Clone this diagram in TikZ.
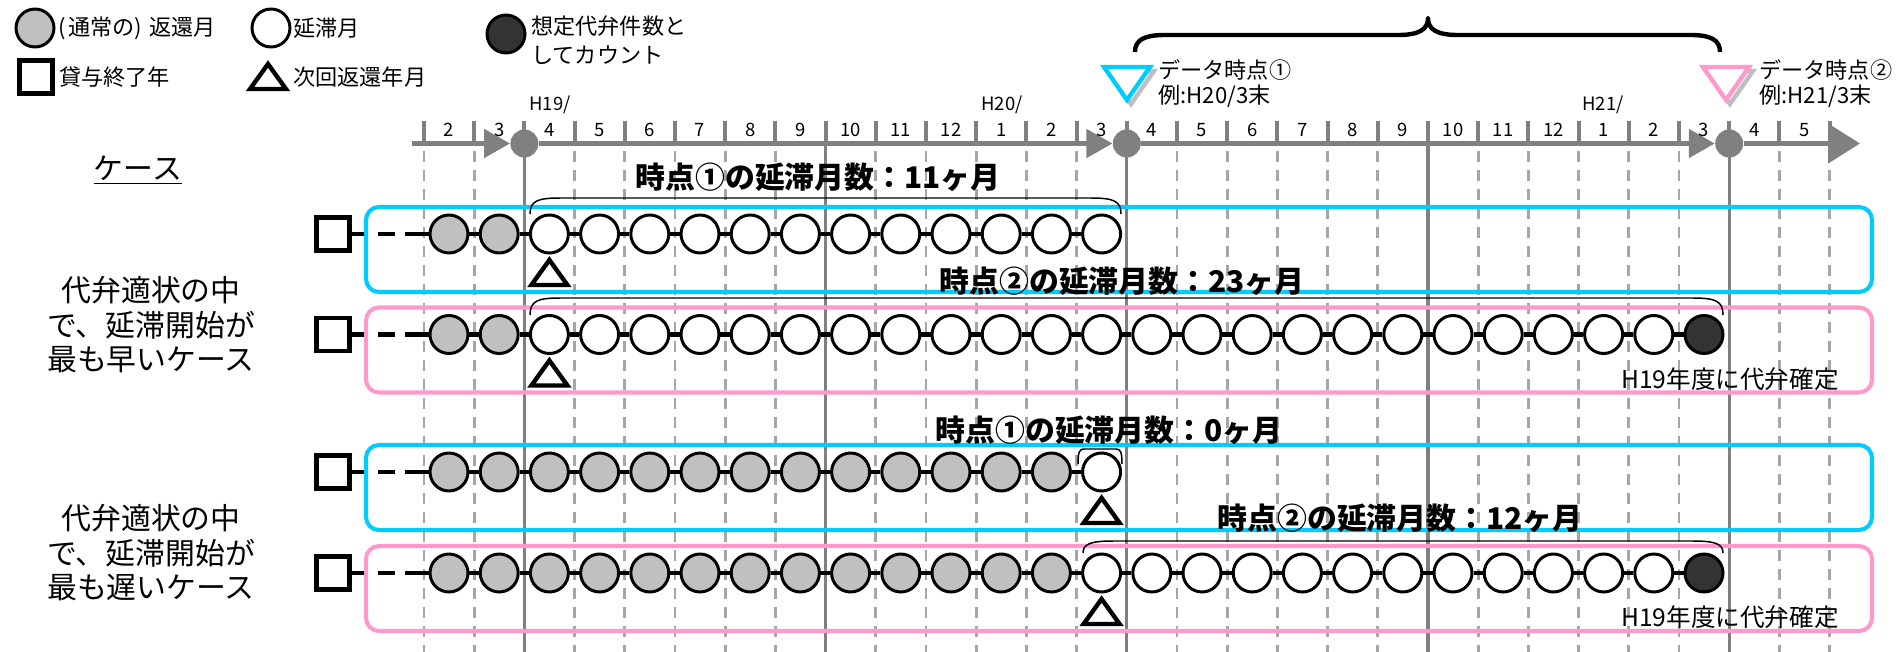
\documentclass[tikz,border=0pt]{standalone}
\usepackage{fontspec}
\setmainfont{Noto Sans CJK JP}
\usetikzlibrary{arrows.meta}
\definecolor{axisgray}{HTML}{808080}
\definecolor{gridgray}{HTML}{A6A6A6}
\definecolor{paidgray}{HTML}{C0C0C0}
\definecolor{subdark}{HTML}{333333}
\definecolor{pointcyan}{HTML}{00CCFF}
\definecolor{pointpink}{HTML}{FF99CC}
\definecolor{shadowgray}{HTML}{BFBFBF}

\begin{document}
\begin{tikzpicture}[x=0.02cm, y=-0.02cm,
    mon/.style={circle, minimum size=0.76cm, inner sep=0, draw, line width=1.7pt},
    paid/.style={mon, fill=paidgray},
    late/.style={mon, fill=white},
    subro/.style={mon, fill=subdark},
    endyr/.style={rectangle, minimum size=0.66cm, inner sep=0, draw, line width=2.5pt, fill=white},
    link/.style={line width=2.8pt},
    nexttri/.style={line width=2.5pt, line join=miter, fill=white},
    tick/.style={axisgray, line width=2.3pt},
    axdot/.style={circle, minimum size=0.56cm, inner sep=0, fill=axisgray},
    axis/.style={axisgray, line width=2.8pt},
    grid/.style={gridgray, line width=1.5pt, dash pattern=on 0.22cm off 0.16cm},
    yearln/.style={axisgray, line width=1.9pt},
    rowbox/.style={rounded corners=0.26cm, line width=2.3pt},
    bracel/.style={line width=0.85pt},
    monlbl/.style={inner sep=0, font=\fontsize{10.5}{12}\selectfont},
    lgd/.style={anchor=west, inner sep=0, font=\fontsize{12.6}{16.4}\selectfont},
    cnt/.style={inner sep=0, font=\fontsize{17}{20}\selectfont\bfseries},
    casetxt/.style={inner sep=0, align=center, font=\fontsize{17}{19.6}\selectfont},
    fixnote/.style={inner sep=0, font=\fontsize{14}{16}\selectfont}]
\useasboundingbox (0,0) rectangle (1898,652);

% grid: solid every half year, dashed every month
\foreach \j in {0,...,28} {
  \pgfmathtruncatemacro{\six}{mod(\j+4,6)}
  \ifnum\six=0
    \draw[yearln] ({424+50.2*\j},146) -- ({424+50.2*\j},652);
  \else
    \draw[grid] ({424+50.2*\j},151) -- ({424+50.2*\j},652);
  \fi
}

% time axis
\foreach \j in {0,...,28}
  \draw[tick] ({424+50.2*\j},121) -- ({424+50.2*\j},141);
\coordinate (a0) at (412,143.5);
\coordinate (a4) at (1860,143.5);
\node[axdot] (d1) at (524.4,143.5) {};
\node[axdot] (d2) at (1126.8,143.5) {};
\node[axdot] (d3) at (1729.2,143.5) {};
\draw[axis, -{Triangle[length=0.52cm, width=0.56cm]}] (a0) -- (d1);
\draw[axis, -{Triangle[length=0.52cm, width=0.56cm]}] (d1) -- (d2);
\draw[axis, -{Triangle[length=0.52cm, width=0.56cm]}] (d2) -- (d3);
\draw[axis, -{Triangle[length=0.64cm, width=0.78cm]}] (d3) -- (a4);
\foreach \k in {0,...,27} {
  \pgfmathtruncatemacro{\m}{mod(\k+1,12)+1}
  \node[monlbl] (m\k) at ({449+50.2*\k},130) {\m};
}
\node[monlbl, anchor=west] (h19) at (529,105) {H19/};
\node[monlbl, anchor=west] (h20) at (981,105) {H20/};
\node[monlbl, anchor=west] (h21) at (1582,105) {H21/};

% data points
\draw[shadowgray, line width=2.5pt] (1108,71) -- (1154,71) -- (1131,104) -- cycle;
\draw[pointcyan, line width=2.5pt, fill=white] (1104,67) -- (1150,67) -- (1127,100) -- cycle;
\draw[shadowgray, line width=2.5pt] (1707,71) -- (1753,71) -- (1730,104) -- cycle;
\draw[pointpink, line width=2.5pt, fill=white] (1703,67) -- (1749,67) -- (1726,100) -- cycle;
\node[lgd] (p1) at (1158,70) {データ時点①};
\node[lgd] (p1x) at (1158,96) {例:H20/3末};
\node[lgd] (p2) at (1759,70) {データ時点②};
\node[lgd] (p2x) at (1759,96) {例:H21/3末};
\draw[line width=2.5pt, line join=round] (1135,52) .. controls (1135,40) and (1144,35) .. (1165,35) -- (1398,35)
  .. controls (1420,35) and (1428,29) .. (1428,18) .. controls (1428,29) and (1436,35) .. (1458,35)
  -- (1690,35) .. controls (1711,35) and (1720,40) .. (1720,52);

% legend
\node[paid] (lp) at (35,28) {};
\node[lgd] (lpt) at (58,28) {(\hspace{0.12em}通常の)\hspace{0.3em}返還月};
\node[late] (ll) at (271,28) {};
\node[lgd] (llt) at (293,28) {延滞月};
\node[subro] (ls) at (506,34) {};
\node[lgd, align=left] (lst) at (531,40) {想定代弁件数と\\してカウント};
\node[endyr] (le) at (36,77) {};
\node[lgd] (let) at (59,77) {貸与終了年};
\draw[nexttri] (250,89) -- (286,89) -- (268,64) -- cycle;
\node[lgd] (lnt) at (293,77) {次回返還年月};

% cases
\node[casetxt] (kh) at (138,170) {\underline{ケース}};
\node[casetxt] (k1) at (151,325) {代弁適状の中\\で、延滞開始が\\最も早いケース};
\node[casetxt] (k2) at (151,553) {代弁適状の中\\で、延滞開始が\\最も遅いケース};

\foreach \rw/\y/\col/\gend/\wend/\dk in {1/234/pointcyan/1/13/0, 2/334.5/pointpink/1/24/1,
    3/472/pointcyan/12/13/0, 4/573/pointpink/12/24/1} {
  \draw[rowbox, \col] (366,\y-27) rectangle (1872,\y+58);
  \node[endyr] (s\rw) at (333,\y) {};
  \pgfmathtruncatemacro{\last}{\wend+\dk}
  \foreach \k in {0,...,\last} {
    \ifnum\k>\wend \def\st{subro}\else\ifnum\k>\gend \def\st{late}\else\def\st{paid}\fi\fi
    \node[\st] (c\rw-\k) at ({449+50.2*\k},\y) {};
  }
  \draw[link, dash pattern=on 0.25cm off 0.27cm on 0.34cm off 0.2cm on 2cm] (s\rw) -- (c\rw-0);
  \foreach \k in {1,...,\last} {
    \pgfmathtruncatemacro{\p}{\k-1}
    \draw[link] (c\rw-\p) -- (c\rw-\k);
  }
  \pgfmathtruncatemacro{\nx}{\gend+1}
  \draw[nexttri] (c\rw-\nx) ++(-18,51) -- ++(36,0) -- ++(-18,-25) -- cycle;
}

% delay spans
\foreach \xl/\xr/\yt/\ye/\cr in {530/1121/198/214/30, 530/1723/298/315/30,
    1078/1122/449/464/6, 1083/1723/541/553/30}
  \draw[bracel] (\xl,\ye) .. controls (\xl,\yt+3) and (\xl+\cr/4,\yt) .. (\xl+\cr,\yt)
    -- (\xr-\cr,\yt) .. controls (\xr-\cr/4,\yt) and (\xr,\yt+3) .. (\xr,\ye);

\node[cnt] (n1) at (818,177) {時点①の延滞月数：11ヶ月};
\node[cnt] (n2) at (1122,281) {時点②の延滞月数：23ヶ月};
\node[cnt] (n3) at (1109,430) {時点①の延滞月数：0ヶ月};
\node[cnt] (n4) at (1400,518) {時点②の延滞月数：12ヶ月};
\node[fixnote] (f2) at (1730,379) {H19年度に代弁確定};
\node[fixnote] (f4) at (1730,617) {H19年度に代弁確定};
\end{tikzpicture}
\end{document}
